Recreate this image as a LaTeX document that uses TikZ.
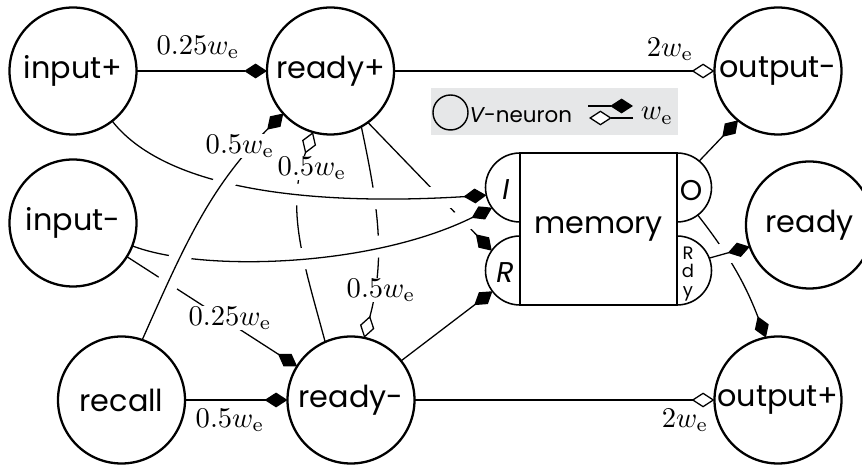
\documentclass[tikz,border=0pt]{standalone}
\usepackage[no-math]{fontspec}
\newfontfamily\geofont{Poppins}
\usetikzlibrary{arrows.meta}
\pgfdeclarelayer{bg}
\pgfdeclarelayer{edges}
\pgfsetlayers{bg,edges,main}
\definecolor{legendgray}{RGB}{230,231,232}

\begin{document}
\begin{tikzpicture}[x=0.35pt,y=-0.35pt,
  neuron/.style={circle, draw, line width=0.8pt, fill=white, minimum size=44.45pt,
    inner sep=0pt, outer sep=0pt, font=\geofont\fontsize{10.6}{13}\selectfont},
  port/.style={circle, minimum size=24.15pt, inner sep=0pt, outer sep=0pt},
  portline/.style={line width=0.55pt, fill=white},
  porttext/.style={inner sep=0pt, font=\geofont\fontsize{10}{12}\selectfont},
  conn/.style={line width=0.45pt},
  exc/.style={conn, -{Diamond[length=8pt,width=5.2pt]}},
  inh/.style={conn, -{Diamond[open,fill=white,length=8pt,width=5.2pt]}},
  halo/.style={preaction={draw=white, line width=7.5pt, arrows=-, shorten <=4pt}},
  wlabel/.style={fill=white, inner sep=0.3pt}
]
\useasboundingbox (0,0) rectangle (862,466);

% neurons
\node[neuron] (inp)  at (73,71)    {input+};
\node[neuron] (rdp)  at (330.5,71) {ready+};
\node[neuron] (outm) at (778,71)   {output-};
\node[neuron] (inm)  at (73,223)   {input-};
\node[neuron] (rdy)  at (809.5,225) {ready};
\node[neuron] (rec)  at (121.5,400) {recall};
\node[neuron] (rdm)  at (351,400)  {ready-};
\node[neuron] (outp) at (778,400)  {output+};

% memory
\node[draw, line width=0.6pt, fill=white, minimum width=54.95pt, minimum height=53.2pt,
  inner sep=0pt, outer sep=0pt, font=\geofont\fontsize{10.6}{13}\selectfont] (mem) at (598.5,229) {memory};
\node[port] (I)   at (520,187.5) {};
\node[port] (R)   at (520,270.5) {};
\node[port] (O)   at (677,187.5) {};
\node[port] (Rdy) at (677,270.5) {};
\filldraw[portline] (I.north) arc[start angle=90, end angle=270, radius=12.075pt] -- cycle;
\filldraw[portline] (R.north) arc[start angle=90, end angle=270, radius=12.075pt] -- cycle;
\filldraw[portline] (O.north) arc[start angle=90, end angle=-90, radius=12.075pt] -- cycle;
\filldraw[portline] (Rdy.north) arc[start angle=90, end angle=-90, radius=12.075pt] -- cycle;
\node[porttext] (Itxt) at (506,190) {\itshape I};
\node[porttext] (Rtxt) at (505,273) {\itshape R};
\node[porttext] (Otxt) at (691,191) {O};
\node[inner sep=0pt, align=center, font=\geofont\fontsize{6.3}{6.5}\selectfont] (Rdytxt) at (688,274) {R\\d\\y};

% legend
\begin{pgfonlayer}{bg}
\node[fill=legendgray, minimum width=86.45pt, minimum height=16.45pt, inner sep=0pt] (legendbox) at (554.5,111.5) {};
\end{pgfonlayer}
\node[circle, draw, line width=0.5pt, minimum size=12.25pt, inner sep=0pt] (legcirc) at (450.5,112.5) {};
\node[anchor=west, inner sep=0pt, font=\geofont\fontsize{7.5}{9}\selectfont] (legtext) at (469,115) {{\itshape V}-neuron};
\coordinate (la1) at (588,106);
\coordinate (la2) at (633,106);
\coordinate (lb1) at (633,118);
\coordinate (lb2) at (589,118);
\draw[exc] (la1) -- (la2);
\draw[inh] (lb1) -- (lb2);
\node[inner sep=0pt] (legw) at (657,116) {$w_\mathrm{e}$};

% connections
\begin{pgfonlayer}{edges}
\draw[exc] (inp) -- (rdp);
\draw[inh] (rdp) -- (outm);
\draw[exc] (rec) -- (rdm);
\draw[inh] (rdm) -- (outp);
\draw[inh] (rdm.114) to[out=105, in=-110] (rdp.254);
\draw[inh] (rdp.-61) to[out=-78, in=75] (rdm.78);
\draw[exc] (inm.-32) -- (rdm.148);
\draw[exc] (rdp.-54) -- (R.145);
\draw[exc] (rdm.38) -- (R.217);
\draw[exc] (O.50) -- (outm.231);
\draw[exc] (O.-53) to[out=-52, in=111] (outp.101);
% crossing connections, drawn over the others
\draw[exc, halo] (inm) .. controls (200,272) and (370,268) .. (I.216);
\draw[exc, halo] (inp) .. controls (170,195) and (330,205) .. (I.193);
\draw[exc, halo] (rec.71) to[out=66, in=-135] (rdp.222);
\draw[exc, halo] (Rdy.21) -- (rdy.200);
% weights
\node[wlabel] (w1) at (198,47)  {$0.25w_\mathrm{e}$};
\node[wlabel] (w2) at (670,49)  {$2w_\mathrm{e}$};
\node[wlabel] (w3) at (240,146) {$0.5w_\mathrm{e}$};
\node[wlabel] (w4) at (312,168) {$0.5w_\mathrm{e}$};
\node[wlabel] (w5) at (381,290) {$0.5w_\mathrm{e}$};
\node[wlabel] (w6) at (230,318) {$0.25w_\mathrm{e}$};
\node[wlabel] (w7) at (230,420) {$0.5w_\mathrm{e}$};
\node[wlabel] (w8) at (685,420) {$2w_\mathrm{e}$};
\end{pgfonlayer}
\end{tikzpicture}
\end{document}
